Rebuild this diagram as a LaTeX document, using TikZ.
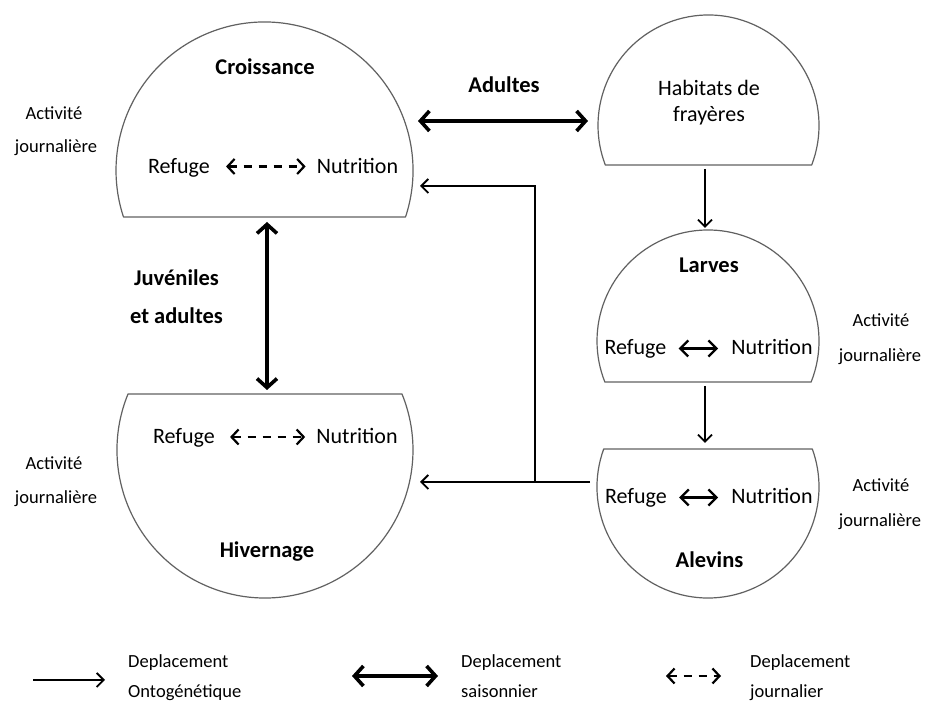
\documentclass[tikz,border=0pt]{standalone}
\usepackage{fontspec}
\setmainfont{Carlito}
\usetikzlibrary{arrows.meta,calc}
\begin{document}
\begin{tikzpicture}[x=1pt,y=1pt,
  zone/.style={draw=black!62, line width=1.2pt, line join=round},
  big/.style={font=\fontsize{22}{25}\selectfont, anchor=base, inner sep=0pt},
  bigb/.style={font=\fontsize{22.5}{25}\selectfont\bfseries, anchor=base, inner sep=0pt},
  small/.style={font=\fontsize{18.5}{22}\selectfont, anchor=base, inner sep=0pt},
  smallw/.style={font=\fontsize{18.5}{22}\selectfont, anchor=base west, inner sep=0pt},
  onto/.style={draw=black, line width=1.8pt, -{Straight Barb[length=7pt,width=14pt]}},
  sais/.style={draw=black, line width=3.6pt, {Straight Barb[length=9pt,width=20pt]}-{Straight Barb[length=9pt,width=20pt]}},
  jour/.style={draw=black, line width=2.2pt, dash pattern=on 8pt off 7pt, {Straight Barb[length=7pt,width=15pt]}-{Straight Barb[length=7pt,width=15pt]}},
  jourcourt/.style={draw=black, line width=2.4pt, {Straight Barb[length=8pt,width=16pt]}-{Straight Barb[length=8pt,width=16pt]}}
]
\useasboundingbox (0,0) rectangle (927,703);
\fill[white] (0,0) rectangle (927,703);

% centres of the zones
\coordinate (cCro) at (264.5,532.5);
\coordinate (cHiv) at (265,253);
\coordinate (cHab) at (708.5,577.5);
\coordinate (cLar) at (708,362);
\coordinate (cAle) at (708,216);

% zones (circles cut by a chord)
\draw[zone] ($(cCro)+(-18.25:148.5)$) arc[start angle=-18.25, end angle=198.25, radius=148.5] -- cycle;
\draw[zone] ($(cHiv)+(157.77:148)$) arc[start angle=157.77, end angle=382.23, radius=148] -- cycle;
\draw[zone] ($(cHab)+(-20.94:110.5)$) arc[start angle=-20.94, end angle=200.94, radius=110.5] -- cycle;
\draw[zone] ($(cLar)+(-21.67:111)$) arc[start angle=-21.67, end angle=201.67, radius=111] -- cycle;
\draw[zone] ($(cAle)+(159.98:111)$) arc[start angle=159.98, end angle=380.02, radius=111] -- cycle;

% titles
\node[bigb] (tCro) at (265,628) {Croissance};
\node[bigb] (tHiv) at (267,145) {Hivernage};
\node[big] (tHab1) at (709,607) {Habitats de};
\node[big] (tHab2) at (709,581) {frayères};
\node[bigb] (tLar) at (709,430) {Larves};
\node[bigb] (tAle) at (709.5,135) {Alevins};

% refuge / nutrition
\node[big] (rCro) at (179,529) {Refuge};
\node[big] (nCro) at (357.5,529) {Nutrition};
\node[big] (rHiv) at (184,259) {Refuge};
\node[big] (nHiv) at (357,259) {Nutrition};
\node[big] (rLar) at (635.5,348) {Refuge};
\node[big] (nLar) at (772,348) {Nutrition};
\node[big] (rAle) at (636,199) {Refuge};
\node[big] (nAle) at (772,199) {Nutrition};

\draw[jour] ($(rCro.base east)+(16,7.5)$) -- ($(nCro.base west)+(-11,7.5)$);
\draw[jour] ($(rHiv.base east)+(15,7)$) -- ($(nHiv.base west)+(-11,7)$);
\draw[jourcourt] ($(rLar.base east)+(12,6.5)$) -- ($(nLar.base west)+(-13,6.5)$);
\draw[jourcourt] ($(rAle.base east)+(12,6.5)$) -- ($(nAle.base west)+(-13,6.5)$);

% activite journaliere
\node[small] (aj1a) at (54,583) {Activité};
\node[small] (aj1b) at (56,550) {journalière};
\node[small] (aj2a) at (54,233) {Activité};
\node[small] (aj2b) at (56,199) {journalière};
\node[small] (aj3a) at (881,376) {Activité};
\node[small] (aj3b) at (880,341) {journalière};
\node[small] (aj4a) at (881,211) {Activité};
\node[small] (aj4b) at (880,176) {journalière};

% seasonal movements
\node[bigb] (lAdu) at (504,610) {Adultes};
\coordinate (croE) at (418,582);
\coordinate (habW) at (588,582);
\draw[sais] (croE) -- (habW);

\node[bigb] (lJuv1) at (176.5,417) {Juvéniles};
\node[bigb] (lJuv2) at (176.5,379) {et adultes};
\coordinate (croS) at (267,481);
\coordinate (hivN) at (267,313);
\draw[sais] (croS) -- (hivN);

% ontogenetic movements
\coordinate (habS) at (705,534);
\coordinate (larN) at (705,475);
\coordinate (larS) at (705,317);
\coordinate (aleN) at (705,260);
\draw[onto] (habS) -- (larN);
\draw[onto] (larS) -- (aleN);

\coordinate (aleW) at (590,221);
\coordinate (junc) at (535,221);
\coordinate (hivE) at (420,221);
\coordinate (croE2) at (420,517);
\draw[onto] (aleW) -- (hivE);
\draw[onto] (junc) |- (croE2);

% legend
\coordinate (lg1a) at (33,23);
\coordinate (lg1b) at (105,23);
\draw[onto] (lg1a) -- (lg1b);
\node[smallw] (lt1a) at (128,35) {Deplacement};
\node[smallw] (lt1b) at (128,5) {Ontogénétique};

\coordinate (lg2a) at (352,27);
\coordinate (lg2b) at (438,27);
\draw[sais] (lg2a) -- (lg2b);
\node[smallw] (lt2a) at (461,35) {Deplacement};
\node[smallw] (lt2b) at (461,5) {saisonnier};

\coordinate (lg3a) at (666,27);
\coordinate (lg3b) at (721,27);
\draw[jour] (lg3a) -- (lg3b);
\node[smallw] (lt3a) at (750,35) {Deplacement};
\node[smallw] (lt3b) at (750,5) {journalier};
\end{tikzpicture}
\end{document}
